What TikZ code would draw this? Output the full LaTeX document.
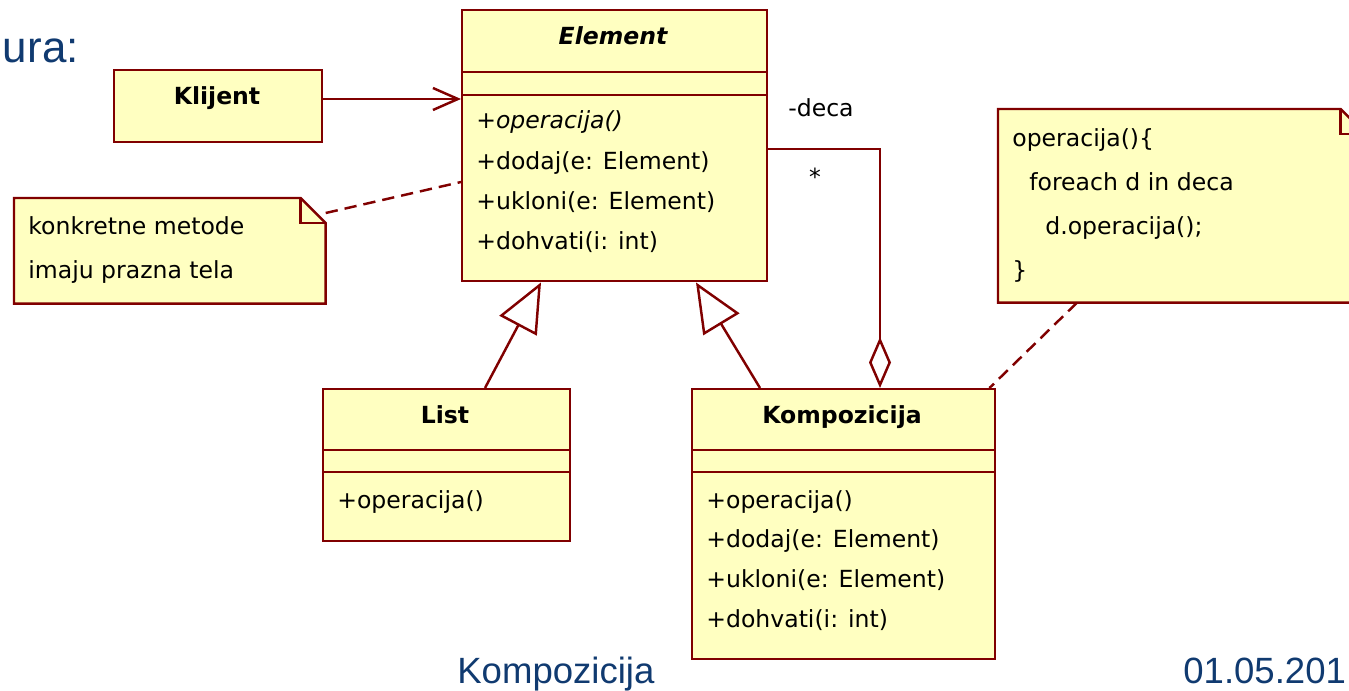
\documentclass[tikz,border=0pt]{standalone}
\usepackage{fontspec}
\setmainfont{DejaVu Sans}
\newfontfamily\slidefont{Liberation Sans}
\usetikzlibrary{arrows.meta}
\definecolor{umlred}{RGB}{128,0,0}
\definecolor{umlfill}{RGB}{255,255,193}
\definecolor{slideblue}{RGB}{16,58,112}
\newcommand\pxu{0.2mm}
\tikzset{
  classbox/.style={rectangle, draw=umlred, fill=umlfill, line width=1.4pt, anchor=north west, inner sep=0pt},
  notebox/.style={rectangle, anchor=north west, inner sep=0pt},
  member/.style={anchor=base west, inner sep=0pt, font=\fontsize{13.4}{16}\selectfont},
  title/.style={anchor=base, inner sep=0pt, font=\fontsize{13.4}{16}\selectfont\bfseries},
  link/.style={draw=umlred, line width=1.4pt},
  notelink/.style={link, dash pattern=on 7pt off 4pt},
  slidetext/.style={anchor=base west, inner sep=0pt, text=slideblue, font=\slidefont\fontsize{20.8}{24}\selectfont}
}
\begin{document}
\begin{tikzpicture}[x=0.2mm, y=-0.2mm]
    \useasboundingbox (0,0) rectangle (1349,691);
    \clip (0,0) rectangle (1349,691);

    \node (sect) [slidetext, anchor=base east, font=\slidefont\fontsize{25}{30}\selectfont] at (79,63) {ura:};
    \node (footer) [slidetext] at (457,683) {Kompozicija};
    \node (date) [slidetext] at (1183,683) {01.05.201};

    \node (element) [classbox, minimum width=305*\pxu, minimum height=271*\pxu] at (461,9) {};
    \draw[link] (element.west |- 0,72) -- (element.east |- 0,72);
    \draw[link] (element.west |- 0,95) -- (element.east |- 0,95);
    \node (elemname) [title] at (613,45) {\itshape Element};
    \node (elemop) [member] at (476,129) {\itshape +operacija()};
    \node (elemadd) [member] at (476,170) {+dodaj(e: Element)};
    \node (elemrem) [member] at (476,210) {+ukloni(e: Element)};
    \node (elemget) [member] at (476,250) {+dohvati(i: int)};

    \node (klijent) [classbox, minimum width=208*\pxu, minimum height=72*\pxu] at (113,69) {};
    \node (klijname) [title] at (217,105) {Klijent};

    \node (list) [classbox, minimum width=247*\pxu, minimum height=152*\pxu] at (322,388) {};
    \draw[link] (list.west |- 0,450) -- (list.east |- 0,450);
    \draw[link] (list.west |- 0,472) -- (list.east |- 0,472);
    \node (listname) [title] at (445,424) {List};
    \node (listop) [member] at (337,509) {+operacija()};

    \node (komp) [classbox, minimum width=303*\pxu, minimum height=270*\pxu] at (691,388) {};
    \draw[link] (komp.west |- 0,450) -- (komp.east |- 0,450);
    \draw[link] (komp.west |- 0,472) -- (komp.east |- 0,472);
    \node (kompname) [title] at (842,424) {Kompozicija};
    \node (kompop) [member] at (706,509) {+operacija()};
    \node (kompadd) [member] at (706,548) {+dodaj(e: Element)};
    \node (komprem) [member] at (706,588) {+ukloni(e: Element)};
    \node (kompget) [member] at (706,628) {+dohvati(i: int)};

    \node (noteL) [notebox, minimum width=311*\pxu, minimum height=105*\pxu] at (14,198) {};
    \draw[link, fill=umlfill] (noteL.north west) -- ([xshift=-25*\pxu]noteL.north east) -- ([yshift=-25*\pxu]noteL.north east) -- (noteL.south east) -- (noteL.south west) -- cycle;
    \draw[link] ([xshift=-25*\pxu]noteL.north east) |- ([yshift=-25*\pxu]noteL.north east);
    \node (noteLa) [member] at (28,235) {konkretne metode};
    \node (noteLb) [member] at (28,279) {imaju prazna tela};

    \node (noteR) [notebox, minimum width=367*\pxu, minimum height=193*\pxu] at (998,109) {};
    \draw[link, fill=umlfill] (noteR.north west) -- ([xshift=-25*\pxu]noteR.north east) -- ([yshift=-25*\pxu]noteR.north east) -- (noteR.south east) -- (noteR.south west) -- cycle;
    \draw[link] ([xshift=-25*\pxu]noteR.north east) |- ([yshift=-25*\pxu]noteR.north east);
    \node (noteRa) [member] at (1012,147) {operacija()\{};
    \node (noteRb) [member] at (1029,191) {foreach d in deca};
    \node (noteRc) [member] at (1045,235) {d.operacija();};
    \node (noteRd) [member] at (1012,279) {\}};

    \draw[link, -{Straight Barb[length=5mm, width=4.4mm]}] (klijent.east |- 0,99) -- (element.west |- 0,99);
    \draw[link, -{Triangle[open, length=9.8mm, width=8.4mm]}] (list.north -| 485,0) -- (element.south -| 541,0);
    \draw[link, -{Triangle[open, length=9.8mm, width=8.4mm]}] (komp.north -| 760,0) -- (element.south -| 696,0);
    \draw[link, -{Diamond[open, length=10.2mm, width=4.4mm]}] (element.east |- 0,149) -| (komp.north -| 880,0);
    \node (role) [member] at (788,117) {-deca};
    \node (mult) [member, anchor=base] at (815,186) {*};

    \draw[notelink] ([yshift=-15*\pxu]noteL.north east) -- (element.west |- 0,182);
    \draw[notelink] (noteR.south -| 1077,0) -- ([xshift=-7*\pxu]komp.north east);
\end{tikzpicture}
\end{document}
